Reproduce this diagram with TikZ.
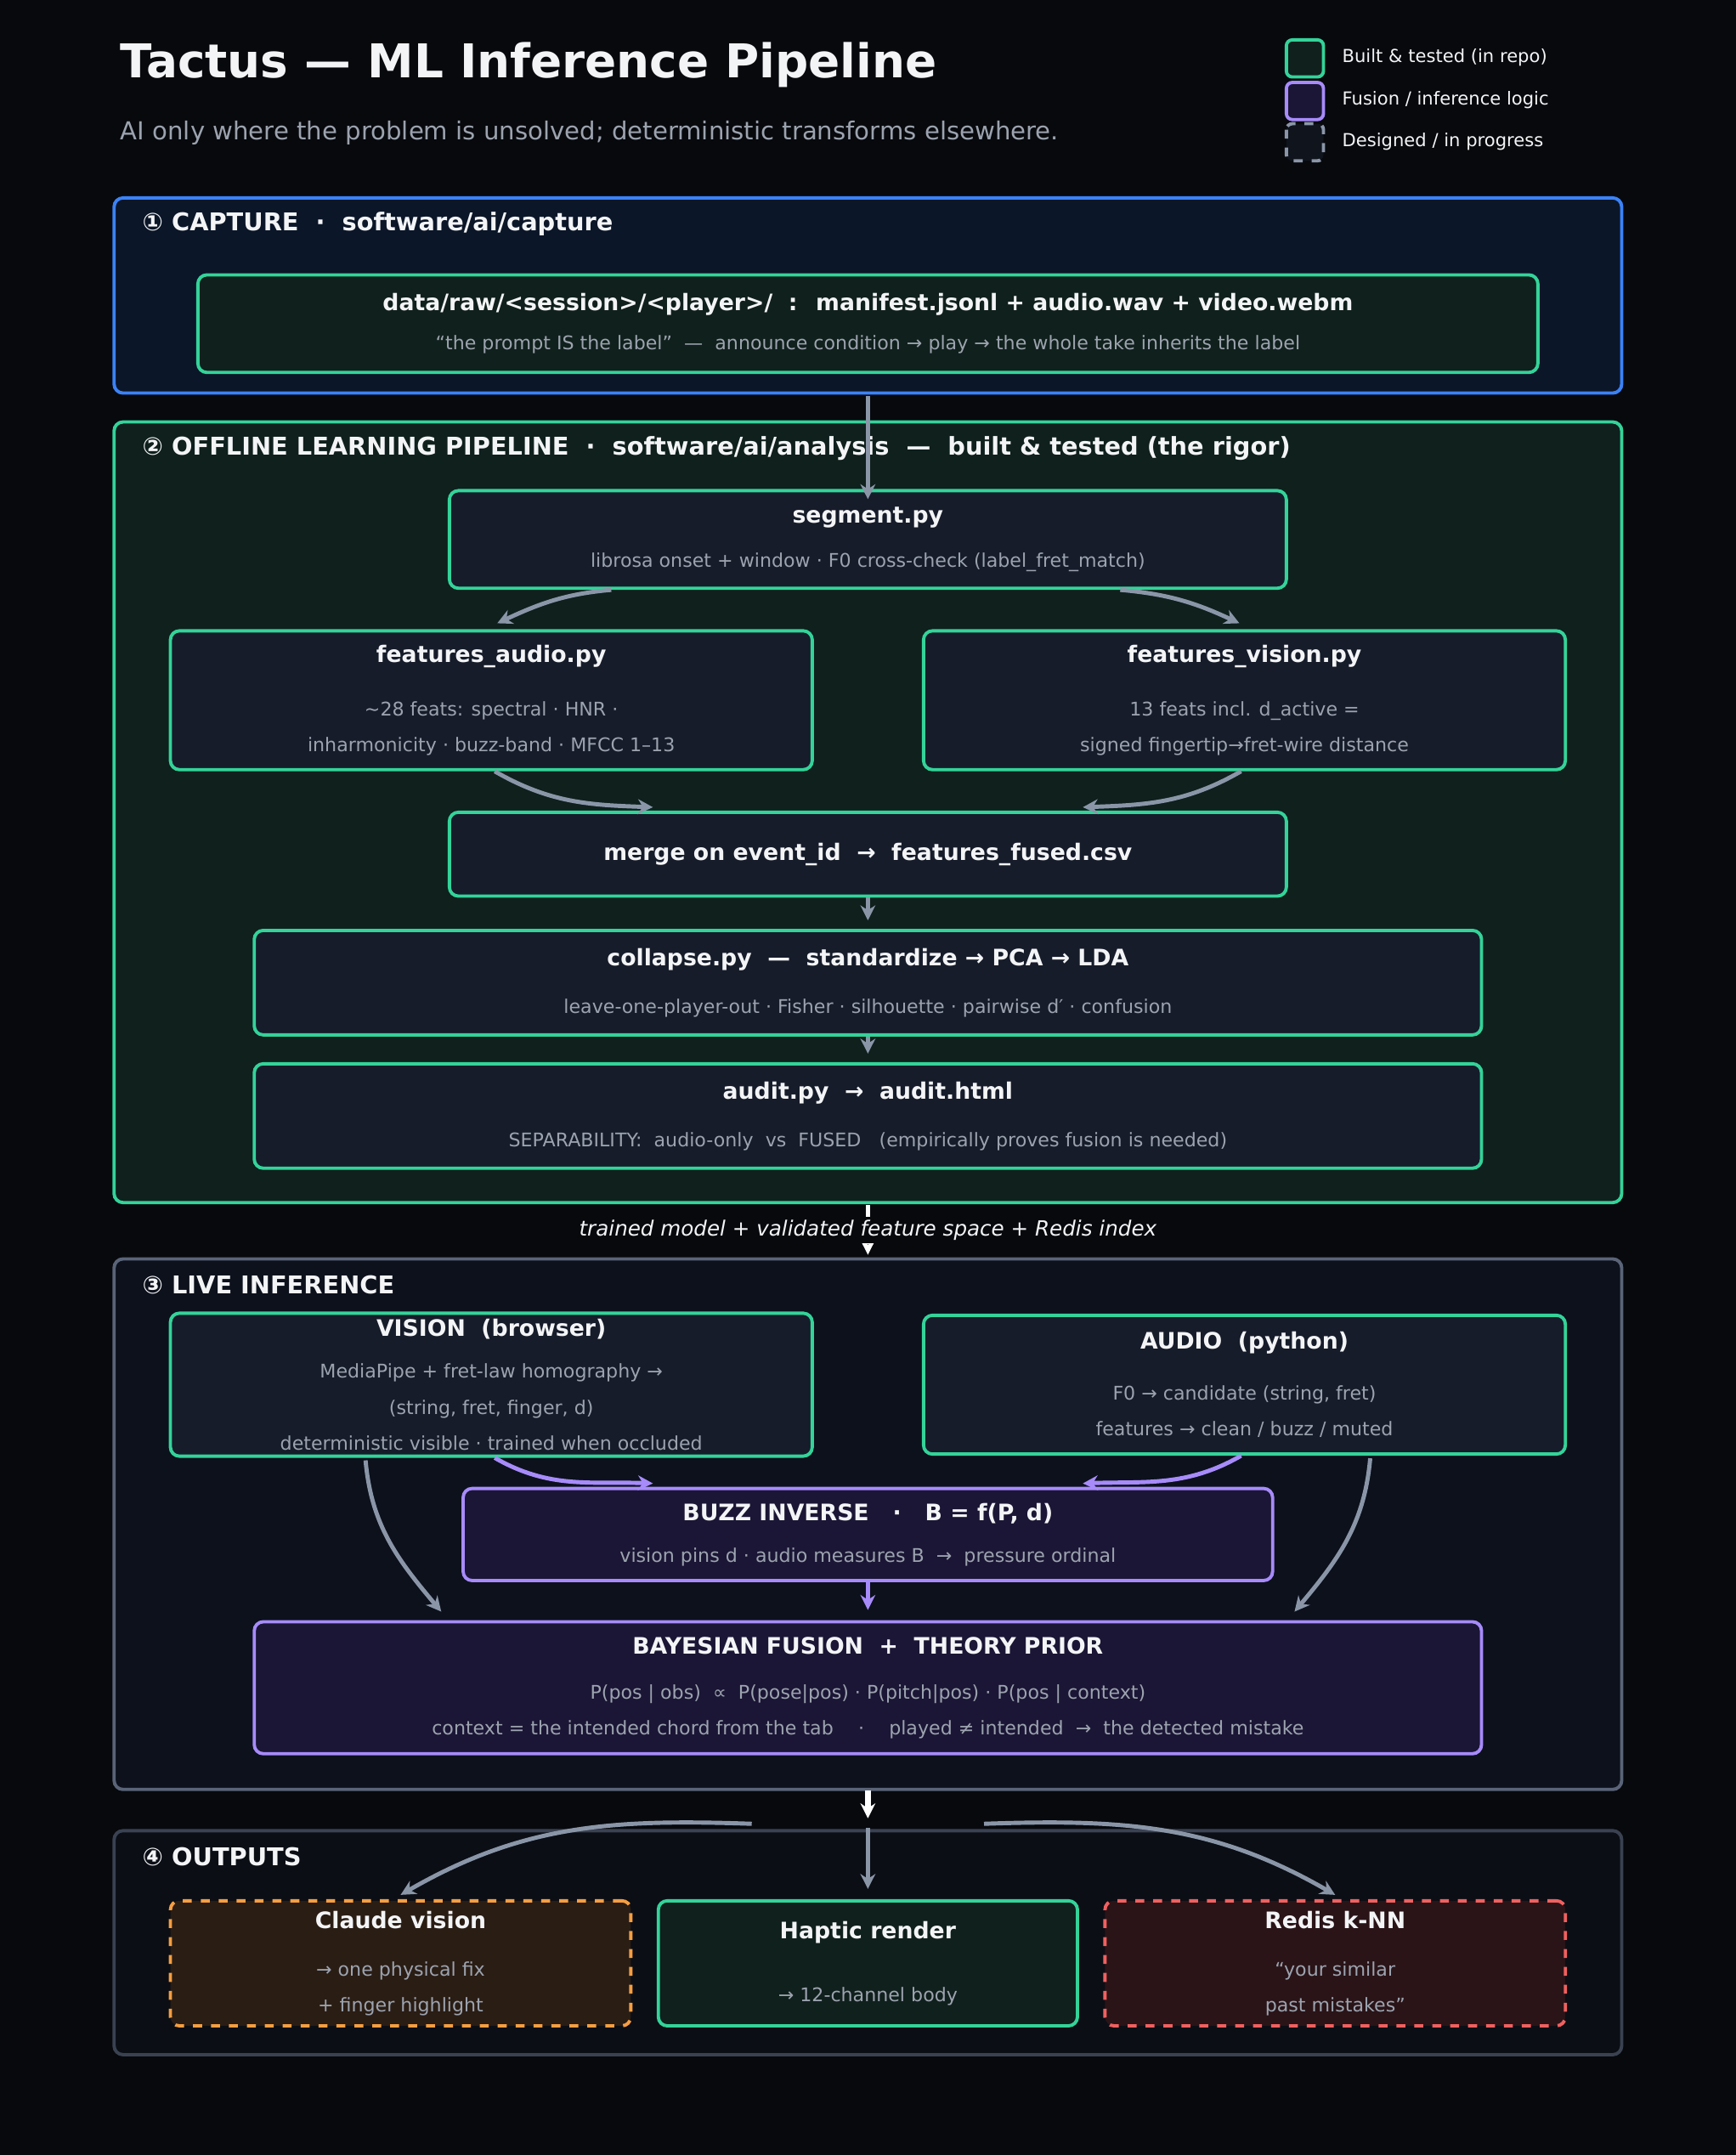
\documentclass[tikz,border=0pt]{standalone}
\usepackage{fontspec}
\setmainfont{DejaVu Sans}
\usetikzlibrary{arrows.meta}
\definecolor{bg-color}{HTML}{07090D}
\definecolor{built-color}{HTML}{34D399}
\definecolor{fusion-color}{HTML}{A78BFA}
\definecolor{cap-color}{HTML}{3B82F6}
\definecolor{live-color}{HTML}{5A6478}
\definecolor{out-color}{HTML}{3A4252}
\definecolor{arrow-color}{HTML}{8A96A8}
\definecolor{sub-color}{HTML}{9CA3AF}
\definecolor{txt-color}{HTML}{F3F4F6}
\definecolor{claude-color}{HTML}{F59E42}
\definecolor{redis-color}{HTML}{F06060}
\newcommand{\ttl}[1]{{\fontsize{7.6}{9}\selectfont\bfseries #1}}
\newcommand{\sbt}[1]{{\fontsize{6.3}{7.4}\selectfont\color{sub-color}#1}}

\begin{document}
\begin{tikzpicture}[x=0.016176cm, y=-0.016176cm,
  section/.style={draw=#1, line width=1.1pt, rounded corners=3pt},
  box/.style={draw=built-color, fill=#1, line width=1.1pt, rounded corners=3pt,
    align=center, text=txt-color, inner sep=2pt},
  box/.default={HTML161C2A},
  flow/.style={-{Stealth[length=5pt,width=5pt]}, line width=1.4pt, draw=arrow-color},
  pflow/.style={flow, draw=fusion-color},
  hdr/.style={anchor=west, text=txt-color, font=\fontsize{8.2}{10}\selectfont\bfseries},
]
\definecolor{HTML161C2A}{HTML}{161C2A}
\definecolor{inbuilt}{HTML}{10201C}
\definecolor{infusion}{HTML}{1B1635}
\definecolor{inclaude}{HTML}{2A1D14}
\definecolor{inredis}{HTML}{2A1418}
\fill[bg-color] (0,0) rectangle (1263,1568);

% title and legend
\node(title) [anchor=west, text=txt-color, font=\fontsize{15.6}{18}\selectfont\bfseries] at (80,47) {Tactus — ML Inference Pipeline};
\node(subtitle) [anchor=west, text=sub-color, font=\fontsize{8.3}{10}\selectfont] at (80,97) {AI only where the problem is unsolved; deterministic transforms elsewhere.};

\draw[built-color, fill=inbuilt, line width=1.1pt, rounded corners=2pt] (936,29) rectangle (963,56);
\draw[fusion-color, fill=infusion, line width=1.1pt, rounded corners=2pt] (936,60) rectangle (963,87);
\draw[arrow-color, fill=HTML161C2A!70!black, line width=1.1pt, dashed, rounded corners=2pt] (936,90) rectangle (963,117);
\node(l1) [anchor=west, text=txt-color, font=\fontsize{6}{7}\selectfont] at (969,42) {Built \& tested (in repo)};
\node(l2) [anchor=west, text=txt-color, font=\fontsize{6}{7}\selectfont] at (969,73) {Fusion / inference logic};
\node(l3) [anchor=west, text=txt-color, font=\fontsize{6}{7}\selectfont] at (969,103) {Designed / in progress};

% sections
\draw[section=cap-color, fill={rgb,255:red,11;green,22;blue,40}] (83,144) rectangle (1180,286);
\draw[section=built-color, fill={rgb,255:red,15;green,32;blue,29}] (83,307) rectangle (1180,875);
\draw[section=live-color, fill={rgb,255:red,12;green,17;blue,28}] (83,916) rectangle (1180,1302);
\draw[section=out-color, fill={rgb,255:red,11;green,14;blue,21}] (83,1332) rectangle (1180,1495);

\node(h1) [hdr] at (96,163) {① CAPTURE \ · \ software/ai/capture};
\node(h2) [hdr] at (96,326) {② OFFLINE LEARNING PIPELINE \ · \ software/ai/analysis \ — \ built \& tested (the rigor)};
\node(h3) [hdr] at (96,935) {③ LIVE INFERENCE};
\node(h4) [hdr] at (96,1351) {④ OUTPUTS};

% capture
\node(raw) [box=inbuilt, minimum width=975*0.016176cm, minimum height=71*0.016176cm] at (631.5,235.5)
  {\ttl{data/raw/<session>/<player>/ \ : \ manifest.jsonl + audio.wav + video.webm}\\[1pt]
   \sbt{“the prompt IS the label” \ — \ announce condition → play → the whole take inherits the label}};

% offline pipeline
\node(seg) [box, minimum width=609*0.016176cm, minimum height=71*0.016176cm] at (631.5,392.5)
  {\ttl{segment.py}\\[3pt]\sbt{librosa onset + window · F0 cross-check (label\_fret\_match)}};
\node(fa) [box, minimum width=467*0.016176cm, minimum height=101*0.016176cm] at (357.5,509.5)
  {\ttl{features\_audio.py}\\[6pt]\sbt{\textasciitilde28 feats: spectral · HNR ·}\\\sbt{inharmonicity · buzz-band · MFCC 1–13}};
\node(fv) [box, minimum width=467*0.016176cm, minimum height=101*0.016176cm] at (905.5,509.5)
  {\ttl{features\_vision.py}\\[6pt]\sbt{13 feats incl. d\_active =}\\\sbt{signed fingertip→fret-wire distance}};
\node(merge) [box, minimum width=609*0.016176cm, minimum height=61*0.016176cm] at (631.5,621.5)
  {\ttl{merge on event\_id \ → \ features\_fused.csv}};
\node(coll) [box, minimum width=893*0.016176cm, minimum height=76*0.016176cm] at (631.5,715)
  {\ttl{collapse.py \ — \ standardize → PCA → LDA}\\[4pt]\sbt{leave-one-player-out · Fisher · silhouette · pairwise d′ · confusion}};
\node(audit) [box, minimum width=893*0.016176cm, minimum height=76*0.016176cm] at (631.5,812)
  {\ttl{audit.py \ → \ audit.html}\\[4pt]\sbt{SEPARABILITY: \ audio-only \ vs \ FUSED \ \ (empirically proves fusion is needed)}};

% live inference
\node(vis) [box, minimum width=467*0.016176cm, minimum height=101*0.016176cm] at (357.5,1007.5)
  {\ttl{VISION \ (browser)}\\[2pt]\sbt{MediaPipe + fret-law homography →}\\\sbt{(string, fret, finger, d)}\\\sbt{deterministic visible · trained when occluded}};
\node(aud) [box, minimum width=467*0.016176cm, minimum height=101*0.016176cm] at (905.5,1007.5)
  {\ttl{AUDIO \ (python)}\\[5pt]\sbt{F0 → candidate (string, fret)}\\\sbt{features → clean / buzz / muted}};
\node(buzz) [box=infusion, draw=fusion-color, minimum width=589*0.016176cm, minimum height=67*0.016176cm] at (631.5,1116.5)
  {\ttl{BUZZ INVERSE \ \ · \ \ B = f(P, d)}\\[2pt]\sbt{vision pins d · audio measures B \ → \ pressure ordinal}};
\node(bayes) [box=infusion, draw=fusion-color, minimum width=893*0.016176cm, minimum height=96*0.016176cm] at (631.5,1228)
  {\ttl{BAYESIAN FUSION \ + \ THEORY PRIOR}\\[3pt]\sbt{P(pos | obs) \ ∝ \ P(pose|pos) · P(pitch|pos) · P(pos | context)}\\\sbt{context = the intended chord from the tab \quad · \quad played ≠ intended \ → \ the detected mistake}};

% outputs
\node(claude) [box=inclaude, draw=claude-color, dashed, minimum width=335*0.016176cm, minimum height=91*0.016176cm] at (291.5,1428.5)
  {\ttl{Claude vision}\\[4pt]\sbt{→ one physical fix}\\\sbt{+ finger highlight}};
\node(haptic) [box=inbuilt, minimum width=305*0.016176cm, minimum height=91*0.016176cm] at (631.5,1428.5)
  {\ttl{Haptic render}\\[9pt]\sbt{→ 12-channel body}};
\node(redis) [box=inredis, draw=redis-color, dashed, minimum width=335*0.016176cm, minimum height=91*0.016176cm] at (971.5,1428.5)
  {\ttl{Redis k-NN}\\[4pt]\sbt{“your similar}\\\sbt{past mistakes”}};

% connectors
\draw[flow] (raw.south |- 0,288) -- ([yshift=-0.12cm]seg.north);
\draw[flow] ([xshift=-3.02cm]seg.south) to[out=185,in=25] ([xshift=0.07cm,yshift=0.07cm]fa.north);
\draw[flow] ([xshift=2.97cm]seg.south) to[out=-5,in=155] ([xshift=-0.06cm,yshift=0.07cm]fv.north);
\draw[flow] ([xshift=0.04cm]fa.south) to[out=-30,in=178] ([xshift=-2.53cm,yshift=0.04cm]merge.north);
\draw[flow] ([xshift=-0.04cm]fv.south) to[out=-150,in=2] ([xshift=2.53cm,yshift=0.04cm]merge.north);
\draw[flow] (merge.south) -- ([yshift=0.1cm]coll.north);
\draw[flow] (coll.south) -- ([yshift=0.1cm]audit.north);

\coordinate(offl) at (631.5,877);
\coordinate(livetop) at (631.5,913);
\draw[-{Stealth[length=5pt,width=5pt]}, line width=1.6pt, white, dash pattern=on 5pt off 3pt] (offl) -- (livetop);
\node(trained) [fill=bg-color, inner sep=1pt, text=txt-color, font=\fontsize{7}{8}\selectfont\itshape] at (631.5,895)
  {trained model + validated feature space + Redis index};

\draw[pflow] ([xshift=0.04cm]vis.south) to[out=-30,in=178] ([xshift=-2.53cm,yshift=0.04cm]buzz.north);
\draw[pflow] ([xshift=-0.04cm]aud.south) to[out=-150,in=2] ([xshift=2.53cm,yshift=0.04cm]buzz.north);
\draw[flow] ([xshift=-1.48cm,yshift=-0.03cm]vis.south) to[out=-85,in=130] ([xshift=2.22cm,yshift=0.1cm]bayes.north west);
\draw[flow] ([xshift=1.48cm,yshift=-0.03cm]aud.south) to[out=-95,in=50] ([xshift=-2.22cm,yshift=0.1cm]bayes.north east);
\draw[pflow] (buzz.south) -- ([yshift=0.12cm]bayes.north);

\coordinate(livebot) at (631.5,1303);
\coordinate(outtop) at (631.5,1323);
\draw[-{Stealth[length=5pt,width=5pt]}, line width=1.8pt, white] (livebot) -- (outtop);

\coordinate(fanL) at (547,1327);
\coordinate(fanC) at (631.5,1330);
\coordinate(fanR) at (716,1327);
\draw[flow] (fanL) to[out=178,in=30] ([yshift=0.05cm]claude.north);
\draw[flow] (fanC) -- ([yshift=0.12cm]haptic.north);
\draw[flow] (fanR) to[out=2,in=150] ([yshift=0.05cm]redis.north);

\end{tikzpicture}
\end{document}
